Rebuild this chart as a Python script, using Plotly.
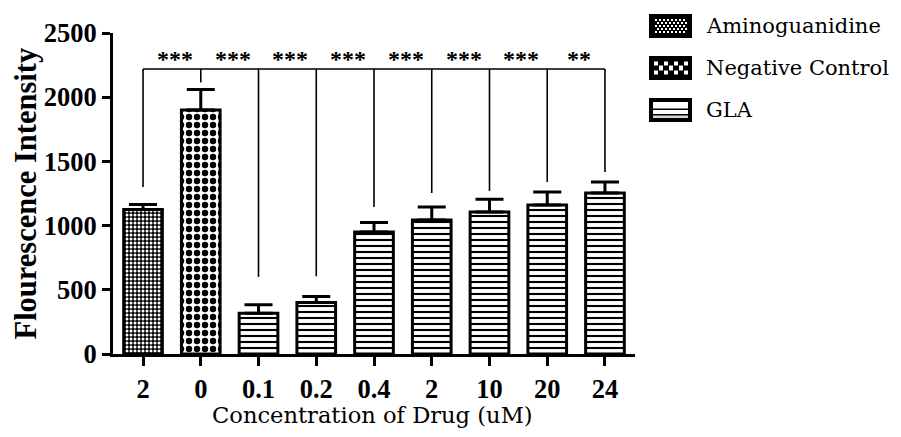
import plotly.graph_objects as go

# ---------------- data ----------------
tick_labels = ["2", "0", "0.1", "0.2", "0.4", "2", "10", "20", "24"]
series_names = ["Aminoguanidine", "Negative Control", "GLA"]
amino_vals = [1125]
amino_err = [40]
neg_vals = [1900]
neg_err = [160]
gla_vals = [318, 402, 950, 1044, 1106, 1161, 1254]
gla_err = [65, 45, 75, 100, 100, 100, 86]
sig_labels = ["***", "***", "***", "***", "***", "***", "***", "**"]
bracket_level = 2220
bracket_ends = [1300, 2115, 600, 605, 1145, 1254, 1270, 1340, 1418]
y_ticks = [0, 500, 1000, 1500, 2000, 2500]

n = len(tick_labels)
xpos = list(range(n))
amino_x = xpos[:1]
neg_x = xpos[1:2]
gla_x = xpos[2:]

SERIF_B = dict(family="Liberation Serif", size=26.5, color="black", weight="bold")

# The page body has an 8px margin, so the figure is 16px smaller than the window
PAGE_OFF = 8
FIG_W, FIG_H = 901 - 2 * PAGE_OFF, 437 - 2 * PAGE_OFF
PLOT_L, PLOT_W, PLOT_T, PLOT_H = 113 - PAGE_OFF, 522, 33 - PAGE_OFF, 321

fig = go.Figure()

patterns = [
    dict(shape=".", fgcolor="white", bgcolor="black", size=4, solidity=0.45, fillmode="replace"),
    dict(shape=".", fgcolor="black", bgcolor="white", size=8, solidity=0.5, fillmode="replace"),
    dict(shape="-", fgcolor="black", bgcolor="white", size=6, solidity=0.35, fillmode="replace"),
]

def add_bar(name, x, y, err, pattern):
    fig.add_trace(go.Bar(
        name=name, x=x, y=y, width=0.67, showlegend=False,
        marker=dict(color="white", line=dict(color="black", width=3), pattern=pattern),
        error_y=dict(type="data", array=err, arrayminus=[0] * len(err), symmetric=False,
                     color="black", thickness=3, width=14),
    ))

add_bar(series_names[0], amino_x, amino_vals, amino_err, patterns[0])
add_bar(series_names[1], neg_x, neg_vals, neg_err, patterns[1])
add_bar(series_names[2], gla_x, gla_vals, gla_err, patterns[2])

# significance bracket
fig.add_shape(type="line", xref="x", yref="y", x0=xpos[0], x1=xpos[-1],
              y0=bracket_level, y1=bracket_level, line=dict(color="black", width=1.6))
for xi, yend in zip(xpos, bracket_ends):
    fig.add_shape(type="line", xref="x", yref="y", x0=xi, x1=xi,
                  y0=bracket_level, y1=yend, line=dict(color="black", width=1.6))
for i, lab in enumerate(sig_labels):
    fig.add_annotation(x=xpos[i] + 0.55, y=bracket_level, xref="x", yref="y",
                       text=lab, showarrow=False, yanchor="middle", yshift=10,
                       font=dict(family="Liberation Serif", size=24, color="black", weight="bold"))

# axis titles as annotations
fig.add_annotation(text="Flourescence Intensity", xref="paper", yref="paper", x=0, y=0.5,
                   xshift=-88, textangle=-90, showarrow=False, xanchor="center", yanchor="middle",
                   font=dict(family="Liberation Serif", size=30.5, color="black", weight="bold"))
fig.add_annotation(text="Concentration of Drug (uM)", xref="paper", yref="paper", x=0.497, y=0,
                   yshift=-61, showarrow=False, xanchor="center", yanchor="middle",
                   font=dict(family="DejaVu Serif", size=22.6, color="black"))

# ---------------- custom legend (pixel-sized swatches) ----------------
def px_x(px):
    return (px - PAGE_OFF - PLOT_L) / PLOT_W
def px_y(py):
    return (PLOT_T + PLOT_H - (py - PAGE_OFF)) / PLOT_H

def rect(xa, ya, x0, x1, y0, y1, color):
    fig.add_shape(type="rect", xref="paper", yref="paper",
                  xsizemode="pixel", ysizemode="pixel", xanchor=xa, yanchor=ya,
                  x0=x0, x1=x1, y0=y0, y1=y1, fillcolor=color, line=dict(width=0))

sw_left = px_x(649)
row_centres = [26, 68, 110]
for k, (name, yc) in enumerate(zip(series_names, row_centres)):
    ya = px_y(yc)
    rect(sw_left, ya, 0, 43, -12, 12, "black")
    if k == 0:
        for j, cy in enumerate((-7, -4, -1, 2, 5)):
            start = 6 + (j % 2) * 2
            for cx in range(start, 37, 4):
                rect(sw_left, ya, cx, cx + 2, cy, cy + 2, "white")
    elif k == 1:
        for c in range(7):
            cx = 5 + c * 5
            if c % 2 == 0:
                rect(sw_left, ya, cx, cx + 4, 2.5, 6.5, "white")
                rect(sw_left, ya, cx, cx + 4, -6.5, -2.5, "white")
            else:
                rect(sw_left, ya, cx, cx + 4, -2.5, 2.5, "white")
    else:
        rect(sw_left, ya, 4, 39, 1.5, 8, "white")
        rect(sw_left, ya, 4, 39, -4, 0, "white")
        rect(sw_left, ya, 4, 39, -8, -5.5, "#d8d8d8")
    fig.add_annotation(text=name, xref="paper", yref="paper", x=px_x(704), y=ya,
                       xanchor="left", yanchor="middle", showarrow=False,
                       font=dict(family="DejaVu Serif", size=21, color="black"))

fig.update_layout(
    width=FIG_W, height=FIG_H,
    margin=dict(l=PLOT_L, r=FIG_W - PLOT_L - PLOT_W, t=PLOT_T, b=FIG_H - PLOT_T - PLOT_H,
                autoexpand=False),
    paper_bgcolor="white", plot_bgcolor="white",
    barmode="overlay",
    showlegend=False,
    xaxis=dict(range=[-0.52, n - 0.48], tickmode="array", tickvals=xpos, ticktext=tick_labels,
               showline=True, linecolor="black", linewidth=3, ticks="outside", ticklen=9,
               tickwidth=3, tickcolor="black", showgrid=False, zeroline=False,
               tickfont=SERIF_B),
    yaxis=dict(range=[0, 2500], tickmode="array", tickvals=y_ticks,
               showline=True, linecolor="black", linewidth=3, ticks="outside", ticklen=8,
               tickwidth=3, tickcolor="black", showgrid=False, zeroline=False,
               tickfont=SERIF_B),
)

fig.write_html("out.html")
